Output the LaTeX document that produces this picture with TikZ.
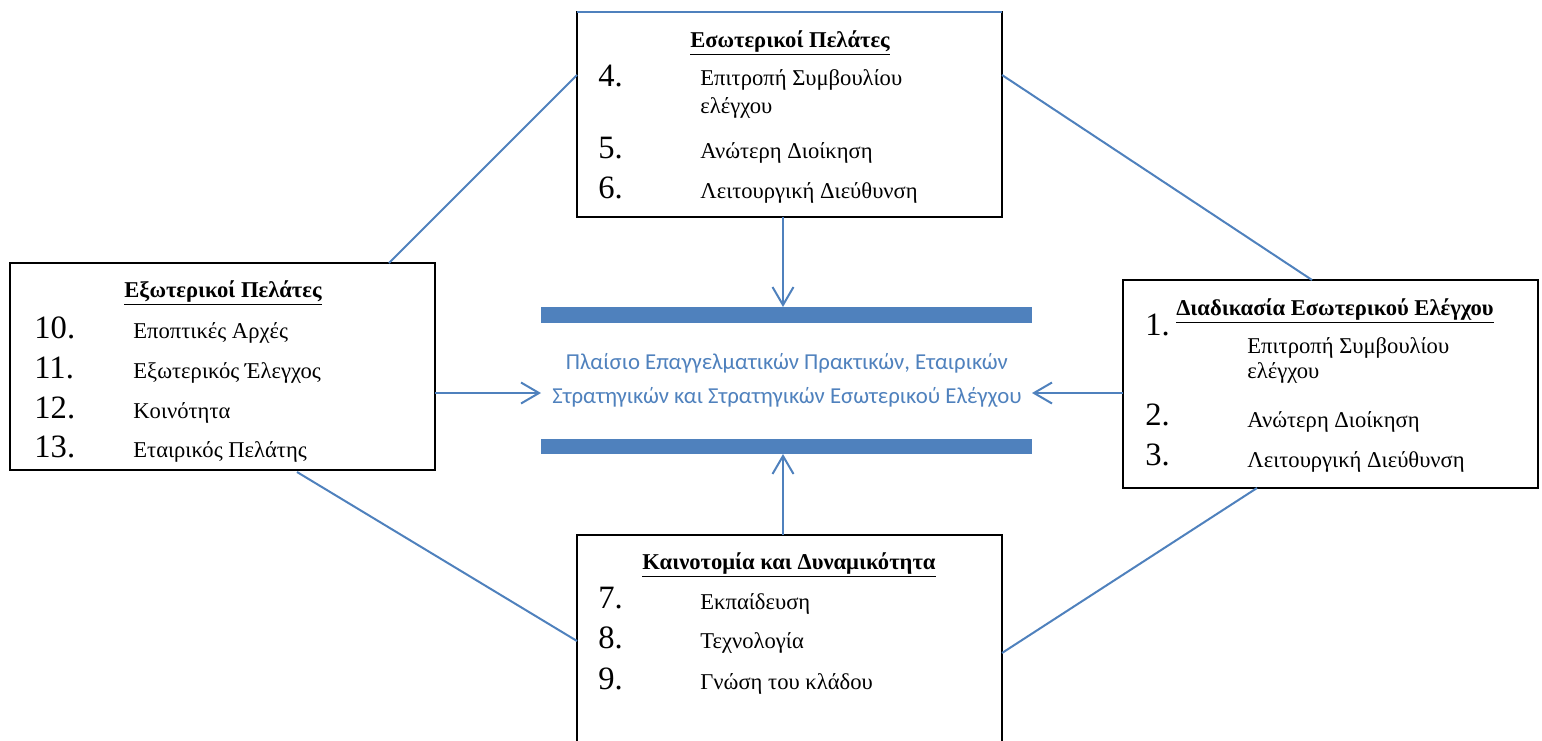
\documentclass[tikz,border=0pt]{standalone}
\usepackage{fontspec}
\setmainfont{Liberation Serif}
\newfontfamily\calib{Carlito}
\usetikzlibrary{arrows.meta}
\definecolor{wblue}{HTML}{4F81BD}
\begin{document}
\begin{tikzpicture}[x=0.5pt,y=-0.5pt,
  box/.style={draw=black,line width=1.25pt,inner sep=0pt,outer sep=0pt,fill=white},
  conn/.style={draw=wblue,line width=1pt},
  arr/.style={conn,-{Straight Barb[length=9pt,width=10.5pt]}},
  bar/.style={fill=wblue,draw=none,inner sep=0pt,outer sep=0pt,minimum width=245.5pt},
  num/.style={anchor=base west,inner sep=0pt,font=\fontsize{16.3}{16}\selectfont},
  itm/.style={anchor=base west,inner sep=0pt,font=\fontsize{11.3}{11}\selectfont},
  ttl/.style={anchor=base,inner sep=0pt,font=\bfseries\fontsize{11.3}{11}\selectfont},
  ctxt/.style={anchor=base,inner sep=0pt,text=wblue,font=\calib\fontsize{11.4}{11}\selectfont}]
\useasboundingbox (0,0) rectangle (1542,740);

% boxes
\node[box,minimum width=212.5pt,minimum height=102.5pt] (top) at (789.5,114.5) {};
\node[box,minimum width=212.5pt,minimum height=103.5pt] (left) at (222.5,366.5) {};
\node[box,minimum width=207.5pt,minimum height=104pt] (right) at (1330.5,384) {};
\node[box,minimum width=212.5pt,minimum height=115pt] (bottom) at (789.5,650) {};
\draw[conn] (top.north west) -- (top.north east);

% bars
\node[bar,minimum height=8pt] (bar1) at (786.5,315) {};
\node[bar,minimum height=7.5pt] (bar2) at (786.5,446.5) {};

% centre text
\node[ctxt] (c1) at (787,369) {Πλαίσιο Επαγγελματικών Πρακτικών, Εταιρικών};
\node[ctxt] (c2) at (787,403) {Στρατηγικών και Στρατηγικών Εσωτερικού Ελέγχου};

% top box text
\node[ttl] (tT) at (790,47) {\underline{Εσωτερικοί Πελάτες}};
\node[num] (n4) at (598,86) {4.};
\node[itm] (i4) at (700,85) {Επιτροπή Συμβουλίου};
\node[itm] (i4b) at (700,113) {ελέγχου};
\node[num] (n5) at (598,158) {5.};
\node[itm] (i5) at (700,158) {Ανώτερη Διοίκηση};
\node[num] (n6) at (598,198) {6.};
\node[itm] (i6) at (700,198) {Λειτουργική Διεύθυνση};

% left box text
\node[ttl] (tL) at (223,297) {\underline{Εξωτερικοί Πελάτες}};
\node[num] (n10) at (34,338) {10.};
\node[itm] (i10) at (133,338) {Εποπτικές Αρχές};
\node[num] (n11) at (34,378) {11.};
\node[itm] (i11) at (133,378) {Εξωτερικός Έλεγχος};
\node[num] (n12) at (34,418) {12.};
\node[itm] (i12) at (133,418) {Κοινότητα};
\node[num] (n13) at (34,457) {13.};
\node[itm] (i13) at (133,457) {Εταιρικός Πελάτης};

% right box text
\node[ttl] (tR) at (1335,315) {\underline{Διαδικασία Εσωτερικού Ελέγχου}};
\node[num] (n1) at (1145,335) {1.};
\node[itm] (i1) at (1247,353) {Επιτροπή Συμβουλίου};
\node[itm] (i1b) at (1247,378) {ελέγχου};
\node[num] (n2) at (1145,425) {2.};
\node[itm] (i2) at (1247,427) {Ανώτερη Διοίκηση};
\node[num] (n3) at (1145,465) {3.};
\node[itm] (i3) at (1247,467) {Λειτουργική Διεύθυνση};

% bottom box text
\node[ttl] (tB) at (789,569) {\underline{Καινοτομία και Δυναμικότητα}};
\node[num] (n7) at (598,608) {7.};
\node[itm] (i7) at (700,609) {Εκπαίδευση};
\node[num] (n8) at (598,648) {8.};
\node[itm] (i8) at (700,648) {Τεχνολογία};
\node[num] (n9) at (598,689) {9.};
\node[itm] (i9) at (700,689) {Γνώση του κλάδου};

% diagonal connectors
\coordinate (p1) at ([yshift=-31.5pt]top.north west);
\coordinate (p2) at ([xshift=189.5pt]left.north west);
\coordinate (p3) at ([yshift=-31.5pt]top.north east);
\coordinate (p4) at ([xshift=94.5pt]right.north west);
\coordinate (p5) at ([xshift=143.5pt,yshift=-1pt]left.south west);
\coordinate (p6) at ([yshift=-53pt]bottom.north west);
\coordinate (p7) at ([xshift=67pt]right.south west);
\coordinate (p8) at ([yshift=-59pt]bottom.north east);
\draw[conn] (p1) -- (p2);
\draw[conn] (p3) -- (p4);
\draw[conn] (p5) -- (p6);
\draw[conn] (p7) -- (p8);

% arrows into the frame
\coordinate (ax) at (783,0);
\coordinate (ay) at (0,393);
\draw[arr] (top.south -| ax) -- (bar1.north -| ax);
\draw[arr] (bottom.north -| ax) -- (bar2.south -| ax);
\draw[arr] (left.east |- ay) -- (bar1.west |- ay);
\draw[arr] (right.west |- ay) -- (bar1.east |- ay);
\end{tikzpicture}
\end{document}
